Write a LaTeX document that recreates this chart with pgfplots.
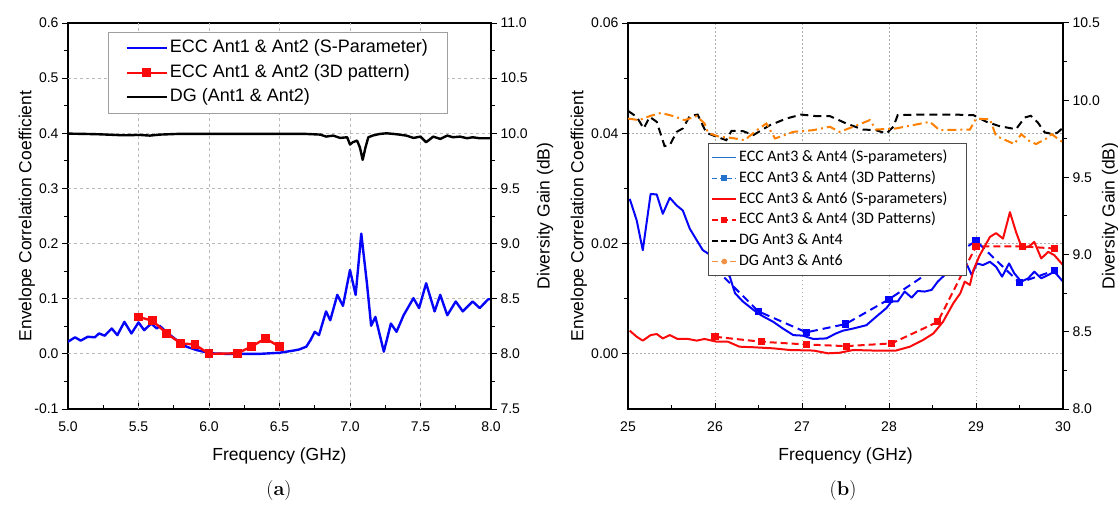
\documentclass[border=0pt]{standalone}
\usepackage{fontspec}
\setsansfont{Liberation Sans}
\newfontfamily\calibri{Carlito}
\usepackage{pgfplots}
\pgfplotsset{compat=1.18}
\definecolor{eccblue}{RGB}{5,5,250}
\definecolor{eccred}{RGB}{250,10,10}
\definecolor{dgorange}{RGB}{255,128,0}
\definecolor{legblue}{RGB}{35,115,205}
\definecolor{legorange}{RGB}{240,145,70}

\pgfplotsset{
  prec/.style={/pgf/number format/fixed, /pgf/number format/fixed zerofill,
    /pgf/number format/precision=#1},
  frame/.style={
    scale only axis, anchor=south west,
    /pgf/number format/assume math mode=true,
    scaled ticks=false,
    tick label style={font=\sffamily\fontsize{14}{16}\selectfont},
    label style={font=\sffamily\fontsize{17.5}{20}\selectfont},
    axis line style={line width=1.2pt},
    tick style={line width=1pt, black},
    major tick length=6pt, minor tick length=4pt,
  },
  gridonly/.style={
    scale only axis, anchor=south west, scaled ticks=false,
    axis line style={draw=none}, major tick length=0pt,
    xticklabels={}, yticklabels={}, grid=major,
    major grid style={draw=gray!65, dash pattern=on 1.5pt off 2.5pt, line width=1pt},
  },
  main/.style={
    frame,
    xtick align=inside, ytick align=outside,
    xtick pos=bottom, ytick pos=left,
    xticklabel style={yshift=-9pt},
    minor x tick num=1, minor y tick num=1,
    xlabel style={at={(axis description cs:0.5,-0.122)}, anchor=center},
  },
  twin/.style={
    frame,
    axis x line=none, axis y line*=right, tick align=outside,
    minor y tick num=1,
    yticklabel style={prec=1},
  },
  gline/.style={forget plot, draw=gray!55, dash pattern=on 3pt off 3pt, line width=1pt},
  legimg/.style={legend image code/.code={
    \draw[mark repeat=2, mark phase=2, ##1] plot coordinates {(0pt,0pt) (#1/2,0pt) (#1,0pt)};}},
}

\begin{document}
\begin{tikzpicture}
\useasboundingbox (0pt,0pt) rectangle (1118pt,509pt);

% grid of (b)
\begin{axis}[gridonly, at={(628pt,100pt)}, width=435pt, height=386pt,
  xmin=25, xmax=30, ymin=-0.01, ymax=0.06,
  xtick={26,27,28,29}, ytick={0,0.02,0.04},
]
\end{axis}

% (a) ECC and DG, Ant1 & Ant2
\begin{axis}[main, at={(68pt,100pt)}, width=423pt, height=386pt,
  xmin=5, xmax=8, ymin=-0.1, ymax=0.6,
  xtick={5,5.5,6,6.5,7,7.5,8},
  ytick={-0.1,0,0.1,0.2,0.3,0.4,0.5,0.6},
  xticklabel style={prec=1},
  yticklabel style={prec=1},
  xlabel={Frequency (GHz)},
  ylabel={Envelope Correlation Coefficient},
  ylabel style={at={(axis description cs:-0.097,0.5)}, anchor=center},
]
% dashed grid lines at the major ticks
\addplot[gline] coordinates {(5.5,-0.1)(5.5,0.6)};
\addplot[gline] coordinates {(6.0,-0.1)(6.0,0.6)};
\addplot[gline] coordinates {(6.5,-0.1)(6.5,0.6)};
\addplot[gline] coordinates {(7.0,-0.1)(7.0,0.6)};
\addplot[gline] coordinates {(7.5,-0.1)(7.5,0.6)};
\addplot[gline] coordinates {(5,0.0)(8,0.0)};
\addplot[gline] coordinates {(5,0.1)(8,0.1)};
\addplot[gline] coordinates {(5,0.2)(8,0.2)};
\addplot[gline] coordinates {(5,0.3)(8,0.3)};
\addplot[gline] coordinates {(5,0.4)(8,0.4)};
\addplot[gline] coordinates {(5,0.5)(8,0.5)};
\addplot[eccblue, line width=2.4pt, line join=round] coordinates {
 (5.00,0.022)(5.05,0.030)(5.09,0.024)(5.14,0.031)(5.19,0.030)(5.22,0.037)
 (5.26,0.033)(5.31,0.046)(5.35,0.034)(5.40,0.058)(5.45,0.037)(5.50,0.057)
 (5.54,0.043)(5.59,0.055)(5.63,0.046)(5.65,0.051)(5.71,0.037)(5.77,0.025)
 (5.84,0.013)(5.91,0.007)(6.01,0.001)(6.12,0.000)(6.25,0.000)(6.36,0.000)
 (6.50,0.002)(6.60,0.006)(6.64,0.008)(6.69,0.013)(6.72,0.025)(6.75,0.040)
 (6.78,0.034)(6.83,0.077)(6.86,0.061)(6.91,0.107)(6.95,0.087)(7.00,0.152)
 (7.04,0.107)(7.08,0.218)(7.12,0.128)(7.15,0.051)(7.18,0.067)(7.24,0.004)
 (7.29,0.055)(7.33,0.040)(7.38,0.070)(7.45,0.101)(7.49,0.083)(7.54,0.128)
 (7.60,0.077)(7.64,0.107)(7.69,0.070)(7.75,0.095)(7.80,0.077)(7.87,0.095)
 (7.92,0.083)(7.98,0.099)(8.00,0.099)};
\addplot[eccred, line width=2.4pt, mark=square*, mark size=3.2pt] coordinates {
 (5.5,0.067)(5.6,0.060)(5.7,0.037)(5.8,0.019)(5.9,0.017)
 (6.0,0.000)(6.2,0.001)(6.3,0.013)(6.4,0.028)(6.5,0.013)};
\end{axis}

\begin{axis}[twin, at={(68pt,100pt)}, width=423pt, height=386pt,
  xmin=5, xmax=8, ymin=7.5, ymax=11,
  ytick={7.5,8,8.5,9,9.5,10,10.5,11},
  ylabel={Diversity Gain (dB)},
  ylabel style={at={(axis description cs:1.128,0.5)}, anchor=center},
  legimg=40pt,
  legend cell align=left,
  legend style={at={(0.0946,0.977)}, anchor=north west,
    draw=gray!75, line width=0.8pt, fill=white,
    font=\sffamily\fontsize{18}{20}\selectfont,
    inner xsep=17pt, inner ysep=8pt, row sep=8.5pt,
    nodes={inner ysep=0pt, text height=12.5pt, text depth=3.5pt}},
]
\addlegendimage{eccblue, line width=2.4pt}
\addlegendentry{ECC Ant1 \& Ant2 (S-Parameter)}
\addlegendimage{eccred, line width=2.4pt, mark=square*, mark size=3.2pt}
\addlegendentry{ECC Ant1 \& Ant2 (3D pattern)}
\addplot[black, line width=2.4pt, line join=round] coordinates {
 (5.00,9.997)(5.13,9.994)(5.22,9.991)(5.39,9.982)(5.51,9.985)(5.58,9.979)
 (5.65,9.988)(5.77,9.994)(6.69,9.994)(6.79,9.988)(6.83,9.970)(6.88,9.979)
 (6.93,9.958)(6.98,9.964)(7.00,9.898)(7.02,9.919)(7.05,9.934)(7.07,9.873)
 (7.09,9.759)(7.11,9.873)(7.13,9.964)(7.16,9.979)(7.21,9.994)(7.26,10.000)
 (7.31,9.994)(7.35,9.988)(7.40,9.979)(7.45,9.958)(7.50,9.970)(7.54,9.919)
 (7.57,9.949)(7.59,9.970)(7.64,9.949)(7.69,9.979)(7.73,9.964)(7.78,9.970)
 (7.83,9.955)(7.87,9.964)(7.92,9.955)(8.00,9.955)};
\addlegendentry{DG (Ant1 \& Ant2)}
\end{axis}

% (b) ECC and DG, Ant3 with Ant4 and Ant6
\begin{axis}[main, at={(628pt,100pt)}, width=435pt, height=386pt,
  xmin=25, xmax=30, ymin=-0.01, ymax=0.06,
  xtick={25,26,27,28,29,30},
  ytick={0,0.02,0.04,0.06},
  yticklabel style={prec=2},
  xlabel={Frequency (GHz)},
  ylabel={Envelope Correlation Coefficient},
  ylabel style={at={(axis description cs:-0.113,0.5)}, anchor=center},
]
\addplot[eccblue, line width=2pt, line join=round] coordinates {
 (25.02,0.0281)(25.10,0.0242)(25.17,0.0188)(25.26,0.0290)(25.33,0.0289)
 (25.40,0.0254)(25.48,0.0283)(25.56,0.0269)(25.63,0.0260)(25.71,0.0227)
 (25.79,0.0206)(25.86,0.0188)(25.92,0.0182)(26.05,0.0160)(26.17,0.0140)
 (26.23,0.0110)(26.32,0.0095)(26.44,0.0080)(26.53,0.0070)(26.67,0.0058)
 (26.78,0.0046)(26.90,0.0034)(27.01,0.0033)(27.13,0.0027)(27.28,0.0028)
 (27.39,0.0037)(27.47,0.0042)(27.59,0.0046)(27.74,0.0052)(27.85,0.0067)
 (27.97,0.0083)(28.03,0.0095)(28.10,0.0095)(28.18,0.0113)(28.26,0.0102)
 (28.33,0.0114)(28.41,0.0113)(28.49,0.0116)(28.56,0.0131)(28.62,0.0140)
 (28.75,0.0158)(28.89,0.0164)(28.95,0.0143)(29.01,0.0164)(29.08,0.0161)
 (29.16,0.0167)(29.23,0.0158)(29.30,0.0140)(29.38,0.0164)(29.44,0.0146)
 (29.52,0.0131)(29.60,0.0137)(29.67,0.0149)(29.75,0.0137)(29.83,0.0143)
 (29.90,0.0149)(30.00,0.0131)};
\addplot[eccblue, line width=2pt, dash pattern=on 8pt off 5pt,
  mark=square*, mark size=2.6pt, mark options={solid}] coordinates {
 (26.0,0.0155)(26.5,0.0077)(27.05,0.0039)(27.5,0.0054)(28.0,0.0099)
 (29.0,0.0205)(29.5,0.0129)(29.9,0.0151)};
\addplot[eccred, line width=2pt, line join=round] coordinates {
 (25.02,0.0042)(25.10,0.0031)(25.17,0.0024)(25.26,0.0034)(25.33,0.0036)
 (25.40,0.0028)(25.48,0.0034)(25.57,0.0027)(25.69,0.0027)(25.79,0.0024)
 (25.88,0.0027)(26.02,0.0022)(26.15,0.0022)(26.28,0.0013)(26.44,0.0012)
 (26.67,0.0010)(26.86,0.0007)(27.13,0.0006)(27.30,0.0001)(27.43,0.0002)
 (27.59,0.0007)(27.82,0.0006)(28.08,0.0006)(28.24,0.0013)(28.39,0.0025)
 (28.51,0.0037)(28.62,0.0058)(28.74,0.0092)(28.82,0.0110)(28.87,0.0131)
 (28.93,0.0125)(28.97,0.0152)(29.04,0.0178)(29.16,0.0212)(29.23,0.0219)
 (29.31,0.0209)(29.39,0.0257)(29.46,0.0221)(29.53,0.0191)(29.61,0.0195)
 (29.67,0.0203)(29.75,0.0173)(29.83,0.0185)(29.90,0.0179)(30.00,0.0161)};
\addplot[eccred, line width=2pt, dash pattern=on 7pt off 4pt,
  mark=square*, mark size=2.6pt, mark options={solid}] coordinates {
 (26.0,0.0031)(26.53,0.0022)(27.05,0.0017)(27.51,0.0014)(28.03,0.0019)
 (28.56,0.0058)(29.0,0.0195)(29.53,0.0195)(29.9,0.0191)};
\end{axis}

\begin{axis}[twin, at={(628pt,100pt)}, width=435pt, height=386pt,
  xmin=25, xmax=30, ymin=8, ymax=10.5,
  ytick={8,8.5,9,9.5,10,10.5},
  ylabel={Diversity Gain (dB)},
  ylabel style={at={(axis description cs:1.108,0.5)}, anchor=center},
  legimg=24pt,
  legend cell align=left,
  legend style={at={(0.184,0.689)}, anchor=north west,
    draw=black!70, line width=1pt, fill=white,
    font=\calibri\fontsize{16}{18}\selectfont,
    inner xsep=3pt, inner ysep=7pt, row sep=6.8pt,
    nodes={inner ysep=0pt, text height=11pt, text depth=3pt}},
]
\addlegendimage{legblue, line width=1.6pt}
\addlegendentry{ECC Ant3 \& Ant4 (S-parameters)\kern14pt}
\addlegendimage{legblue, line width=1.6pt, dash pattern=on 5pt off 2.5pt,
  mark=square*, mark size=2.3pt, mark options={solid}}
\addlegendentry{ECC Ant3 \& Ant4 (3D Patterns)}
\addlegendimage{eccred, line width=1.6pt}
\addlegendentry{ECC Ant3 \& Ant6 (S-parameters)}
\addlegendimage{eccred, line width=1.6pt, dash pattern=on 6pt off 4pt,
  mark=square*, mark size=2.3pt, mark options={solid}}
\addlegendentry{ECC Ant3 \& Ant4 (3D Patterns)}
\addlegendimage{black, line width=1.6pt, dash pattern=on 6pt off 3pt}
\addlegendentry{DG Ant3 \& Ant4}
\addlegendimage{legorange, line width=1.6pt, dash pattern=on 6pt off 3pt,
  mark=*, mark size=2pt, mark options={solid}}
\addlegendentry{DG Ant3 \& Ant6}
\addplot[forget plot, black, line width=2pt, dash pattern=on 8pt off 5pt] coordinates {
 (25.00,9.931)(25.10,9.892)(25.18,9.817)(25.25,9.892)(25.33,9.860)
 (25.42,9.703)(25.48,9.709)(25.56,9.795)(25.63,9.817)(25.71,9.897)
 (25.80,9.907)(25.90,9.789)(26.02,9.763)(26.13,9.741)(26.19,9.802)
 (26.32,9.800)(26.44,9.774)(26.63,9.838)(26.82,9.881)(26.99,9.907)
 (27.16,9.897)(27.32,9.897)(27.51,9.849)(27.70,9.810)(27.85,9.806)
 (27.97,9.784)(28.05,9.828)(28.10,9.903)(28.35,9.907)(28.74,9.907)
 (28.97,9.903)(29.12,9.860)(29.27,9.832)(29.46,9.812)(29.56,9.888)
 (29.63,9.899)(29.71,9.856)(29.79,9.791)(29.89,9.780)(29.94,9.791)
 (30.00,9.823)};
\addplot[forget plot, dgorange, line width=2pt,
  dash pattern=on 9pt off 4pt on 2pt off 4pt] coordinates {
 (25.00,9.881)(25.13,9.871)(25.25,9.897)(25.38,9.918)(25.52,9.897)
 (25.65,9.871)(25.79,9.897)(25.88,9.849)(25.92,9.789)(26.05,9.763)
 (26.20,9.755)(26.34,9.741)(26.48,9.806)(26.59,9.849)(26.69,9.752)
 (26.90,9.795)(27.13,9.806)(27.32,9.828)(27.43,9.795)(27.59,9.828)
 (27.78,9.871)(27.85,9.810)(28.08,9.817)(28.47,9.860)(28.58,9.806)
 (28.93,9.810)(29.00,9.880)(29.16,9.877)(29.23,9.769)(29.44,9.716)
 (29.52,9.780)(29.61,9.737)(29.69,9.716)(29.81,9.752)(29.87,9.780)
 (30.00,9.726)};
\end{axis}

\node[font=\fontsize{20}{24}\selectfont] at (279pt,18pt) {(\textbf{a})};
\node[font=\fontsize{20}{24}\selectfont] at (843pt,18pt) {(\textbf{b})};
\end{tikzpicture}
\end{document}
